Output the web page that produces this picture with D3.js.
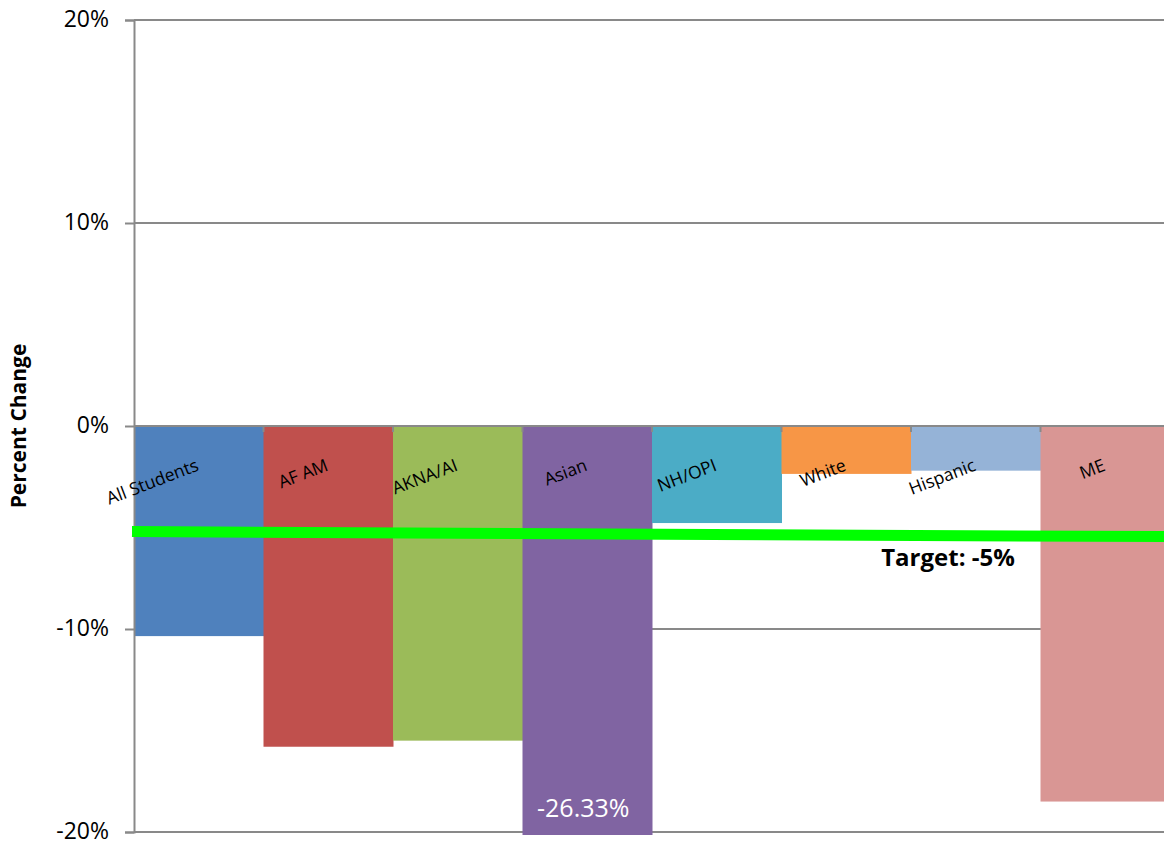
<!DOCTYPE html>
<html>
<head>
<meta charset="utf-8">
<script src="https://cdn.jsdelivr.net/npm/d3@7"></script>
<style>
  html, body { margin: 0; padding: 0; background: #fff; }
  svg { display: block; font-family: "Open Sans", "Liberation Sans", sans-serif; }
</style>
</head>
<body>
<svg id="chart" width="1164" height="844"></svg>
<script>
// Percent change by student group
const groups = ["All Students", "AF AM", "AKNA/AI", "Asian", "NH/OPI", "White", "Hispanic", "ME"];
const changes = [-10.35, -15.8, -15.5, -26.33, -4.78, -2.36, -2.2, -18.5];
const colors = ["#4F81BD", "#C0504D", "#9BBB59", "#8064A2", "#4BACC6", "#F79646", "#95B3D7", "#D99694"];
const yTicks = [20, 10, 0, -10, -20];
// Target line end points (left, right), in percent
const targetLine = [-5.2, -5.45];
const targetLabel = "Target: -5%";

const svg = d3.select("#chart");
const plotLeft = 134, plotRight = 1170, plotTop = 20, plotBottom = 832;

const x = d3.scaleBand().domain(groups).range([plotLeft, plotRight]).padding(0);
const y = d3.scaleLinear().domain([-20, 20]).range([plotBottom, plotTop]);

// clip region for bars (bars run slightly past the bottom gridline)
svg.append("defs").append("clipPath").attr("id", "plotClip")
  .append("rect").attr("x", plotLeft).attr("y", plotTop)
  .attr("width", plotRight - plotLeft).attr("height", plotBottom - plotTop + 3);

// horizontal gridlines
svg.append("g")
  .selectAll("line")
  .data(yTicks.filter(d => d !== 0))
  .join("line")
  .attr("x1", plotLeft).attr("x2", plotRight)
  .attr("y1", d => y(d)).attr("y2", d => y(d))
  .attr("stroke", "#898989").attr("stroke-width", 2);

// bars
svg.append("g").attr("clip-path", "url(#plotClip)")
  .selectAll("rect")
  .data(groups)
  .join("rect")
  .attr("x", d => x(d))
  .attr("width", x.bandwidth() + 0.5)
  .attr("y", (d, i) => y(Math.max(0, changes[i])))
  .attr("height", (d, i) => Math.abs(y(changes[i]) - y(0)))
  .attr("fill", (d, i) => colors[i]);

// y axis
const yAxis = d3.axisLeft(y).tickValues(yTicks).tickFormat(d => d + "%").tickSize(9).tickPadding(16);
const gy = svg.append("g").attr("transform", `translate(${plotLeft},0)`).call(yAxis);
gy.select(".domain").attr("stroke", "#898989").attr("stroke-width", 2);
gy.selectAll(".tick line").attr("stroke", "#898989").attr("stroke-width", 2);
gy.selectAll(".tick text").attr("font-size", 23).attr("fill", "#000")
  .attr("font-family", "'Open Sans', sans-serif").attr("dy", "0.3em");

// category axis along zero, tick marks at category boundaries
svg.append("line")
  .attr("x1", plotLeft).attr("x2", plotRight)
  .attr("y1", y(0)).attr("y2", y(0))
  .attr("stroke", "#898989").attr("stroke-width", 2);
svg.append("g")
  .selectAll("line")
  .data(groups.slice(1))
  .join("line")
  .attr("x1", d => x(d)).attr("x2", d => x(d))
  .attr("y1", y(0)).attr("y2", y(0) + 6)
  .attr("stroke", "#898989").attr("stroke-width", 2);

// category labels, rotated, ending at each bar's centre
svg.append("g")
  .selectAll("text")
  .data(groups)
  .join("text")
  .attr("transform", d => `translate(${x(d) + x.bandwidth() / 2 + 1},${y(0) + 44}) rotate(-21)`)
  .attr("text-anchor", "end")
  .attr("font-size", 17.5)
  .attr("fill", "#000")
  .text(d => d);

// target line
svg.append("line")
  .attr("x1", plotLeft - 2).attr("x2", plotRight)
  .attr("y1", y(targetLine[0])).attr("y2", y(targetLine[1]))
  .attr("stroke", "#00FF00").attr("stroke-width", 11);

svg.append("text")
  .attr("x", 948).attr("y", 566)
  .attr("text-anchor", "middle")
  .attr("font-size", 24).attr("font-weight", "bold")
  .attr("fill", "#000")
  .text(targetLabel);

// value label for the bar that runs off the scale
const ai = groups.indexOf("Asian");
svg.append("text")
  .attr("x", x("Asian") + x.bandwidth() / 2 - 4)
  .attr("y", 817)
  .attr("text-anchor", "middle")
  .attr("font-size", 25)
  .attr("fill", "#fff")
  .text(changes[ai].toFixed(2) + "%");

// y axis title
svg.append("text")
  .attr("transform", `translate(26,${y(0)}) rotate(-90)`)
  .attr("text-anchor", "middle")
  .attr("font-size", 21).attr("font-weight", "bold")
  .attr("fill", "#000")
  .text("Percent Change");
</script>
</body>
</html>
